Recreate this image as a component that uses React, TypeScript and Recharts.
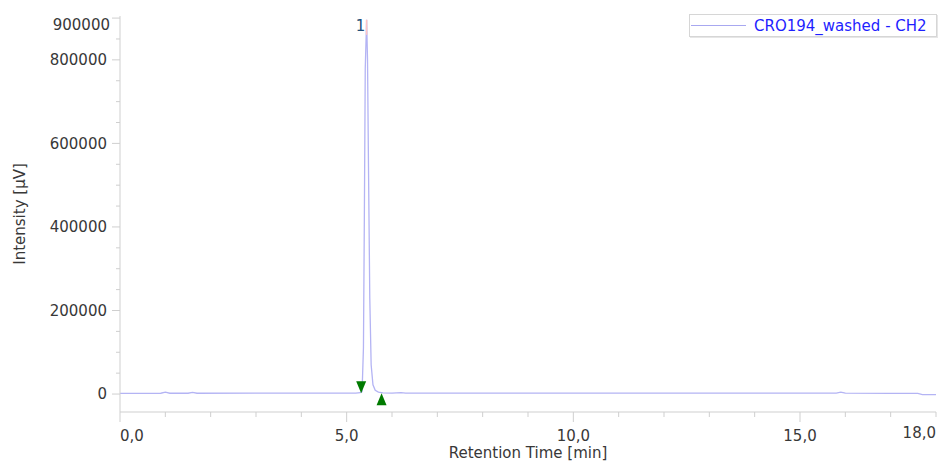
import React from "react";
import {
  ComposedChart,
  Line,
  XAxis,
  YAxis,
  Legend,
  ReferenceDot,
  ReferenceLine,
} from "recharts";

// retention time [min] and detector signal [µV]
const timeMin = [
  0, 0.5, 0.9, 1.0, 1.1, 1.5, 1.6, 1.7, 3.0, 4.5, 5.2, 5.3, 5.34, 5.37, 5.39,
  5.41, 5.44, 5.46, 5.48, 5.51, 5.54, 5.58, 5.63, 5.7, 5.8, 6.0, 6.2, 6.3, 7.0,
  9.0, 12.0, 15.0, 15.8, 15.9, 16.0, 17.0, 17.6, 17.7, 18.0,
];
const intensity = [
  1800, 1800, 1900, 4500, 1900, 1900, 4000, 1900, 2000, 2000, 2400, 3200, 6000,
  110000, 420000, 780000, 896000, 800000, 560000, 230000, 70000, 22000, 9000,
  4500, 2800, 2300, 3200, 2300, 2200, 2100, 2000, 2000, 2000, 4500, 2000, 1800,
  1700, -1200, -1500,
];

// peak 1: apex, start and end markers
const peakLabel = "1";
const peakApex = { t: 5.44, v: 896000 };
const peakTopMark = [860000, 896000];
const markerTimes = [5.32, 5.77];
const markerValues = [2000, 2000];

const xTicks = [0, 1, 2, 3, 4, 5, 6, 7, 8, 9, 10, 11, 12, 13, 14, 15, 16, 17, 18];
const xLabels: Record<number, string> = { 0: "0,0", 5: "5,0", 10: "10,0", 15: "15,0", 18: "18,0" };
const yTicks = [
  0, 50000, 100000, 150000, 200000, 250000, 300000, 350000, 400000, 450000,
  500000, 550000, 600000, 650000, 700000, 750000, 800000, 850000, 900000,
];
const yLabels = [0, 200000, 400000, 600000, 800000, 900000];

const seriesName = "CRO194_washed - CH2";

const trace = timeMin.map((t, i) => ({ t, v: intensity[i] }));

const FONT = "'DejaVu Sans', Verdana, sans-serif";
const AXIS = "#cfcfcf";
const TEXT = "#383838";

const XTick = (props: any) => {
  const { x, y, payload } = props;
  const val = payload.value;
  const label = xLabels[val];
  const major = val % 5 === 0;
  let anchor = "middle";
  if (val === 0) anchor = "start";
  if (val === 18) anchor = "end";
  return (
    <g>
      <line x1={x} y1={y} x2={x} y2={y + (major ? 10 : 5)} stroke={AXIS} />
      {label && (
        <text
          x={x}
          y={y + (val === 18 ? 21 : 24)}
          dy="0.35em"
          textAnchor={anchor}
          fontSize={15}
          fontFamily={FONT}
          fill={TEXT}
        >
          {label}
        </text>
      )}
    </g>
  );
};

const YTick = (props: any) => {
  const { x, y, payload } = props;
  const val = payload.value;
  const hasLabel = yLabels.includes(val);
  const top = val === 900000;
  return (
    <g>
      <line x1={x - (hasLabel ? 8 : 4)} y1={y} x2={x} y2={y} stroke={AXIS} />
      {hasLabel && (
        <text
          x={top ? x - 10 : x - 13}
          y={top ? y + 7 : y}
          dy="0.35em"
          textAnchor="end"
          fontSize={15}
          fontFamily={FONT}
          fill={TEXT}
        >
          {val}
        </text>
      )}
    </g>
  );
};

const LegendBox = () => (
  <div
    style={{
      border: "1px solid #d6d6d6",
      boxShadow: "1px 1px 0 #e6e6e6",
      height: 21,
      display: "flex",
      alignItems: "center",
      background: "#fff",
    }}
  >
    <svg width={64} height={21}>
      <line x1={1} y1={10.5} x2={56} y2={10.5} stroke="#a8a8f0" />
    </svg>
    <span
      style={{
        fontFamily: FONT,
        fontSize: 15,
        color: "#1e1eff",
        whiteSpace: "nowrap",
      }}
    >
      {seriesName}
    </span>
  </div>
);

const TriangleMark = (props: any) => {
  const { cx, cy, up } = props;
  const pts = up
    ? `${cx},${cy} ${cx - 5},${cy + 12} ${cx + 5},${cy + 12}`
    : `${cx},${cy} ${cx - 5},${cy - 12} ${cx + 5},${cy - 12}`;
  return <polygon points={pts} fill="#007a00" />;
};

const App = () => {
  return (
    <div style={{ position: "absolute", left: 0, top: 0, background: "#fff" }}>
      <ComposedChart
        width={939}
        height={464}
        data={trace}
        margin={{ top: 16, right: 3, bottom: 0, left: 0 }}
      >
        <XAxis
          type="number"
          dataKey="t"
          domain={[0, 18]}
          ticks={xTicks}
          interval={0}
          tick={<XTick />}
          tickLine={false}
          tickSize={0}
          tickMargin={0}
          height={52}
          axisLine={{ stroke: AXIS }}
          label={{
            content: (p: any) => {
              const vb = p.viewBox;
              return (
                <text
                  x={vb.x + vb.width / 2}
                  y={453}
                  dy="0.35em"
                  textAnchor="middle"
                  fontSize={15}
                  fontFamily={FONT}
                  fill={TEXT}
                >
                  Retention Time [min]
                </text>
              );
            },
          }}
        />
        <YAxis
          type="number"
          domain={[-43000, 905000]}
          ticks={yTicks}
          interval={0}
          allowDataOverflow
          tick={<YTick />}
          tickLine={false}
          tickSize={0}
          tickMargin={0}
          width={120}
          axisLine={{ stroke: AXIS }}
          label={{
            content: (p: any) => {
              const vb = p.viewBox;
              const cy = vb.y + vb.height / 2;
              return (
                <text
                  x={20}
                  y={cy}
                  dy="0.35em"
                  transform={`rotate(-90 20 ${cy})`}
                  textAnchor="middle"
                  fontSize={15}
                  fontFamily={FONT}
                  fill={TEXT}
                >
                  Intensity [µV]
                </text>
              );
            },
          }}
        />
        <Legend
          layout="horizontal"
          verticalAlign="middle"
          align="center"
          content={<LegendBox />}
          wrapperStyle={{ top: 14, left: 689, width: 248, height: 23 }}
        />
        <Line
          type="linear"
          dataKey="v"
          stroke="#b4b4f4"
          strokeWidth={1.3}
          dot={false}
          activeDot={false}
          isAnimationActive={false}
        />
        <ReferenceLine
          segment={[
            { x: peakApex.t, y: peakTopMark[0] },
            { x: peakApex.t, y: peakTopMark[1] },
          ]}
          stroke="#ffc4c4"
          strokeWidth={1.5}
        />
        {markerTimes.map((t, i) => (
          <ReferenceDot
            key={i}
            x={t}
            y={markerValues[i]}
            r={0}
            shape={(p: any) => <TriangleMark {...p} up={i === 1} />}
          />
        ))}
        <ReferenceDot
          x={peakApex.t}
          y={peakApex.v}
          r={0}
          shape={(p: any) => (
            <text
              x={p.cx - 6}
              y={p.cy + 6}
              dy="0.35em"
              textAnchor="middle"
              fontSize={15}
              fontFamily={FONT}
              fill="#23507a"
            >
              {peakLabel}
            </text>
          )}
        />
      </ComposedChart>
    </div>
  );
};

export default App;
